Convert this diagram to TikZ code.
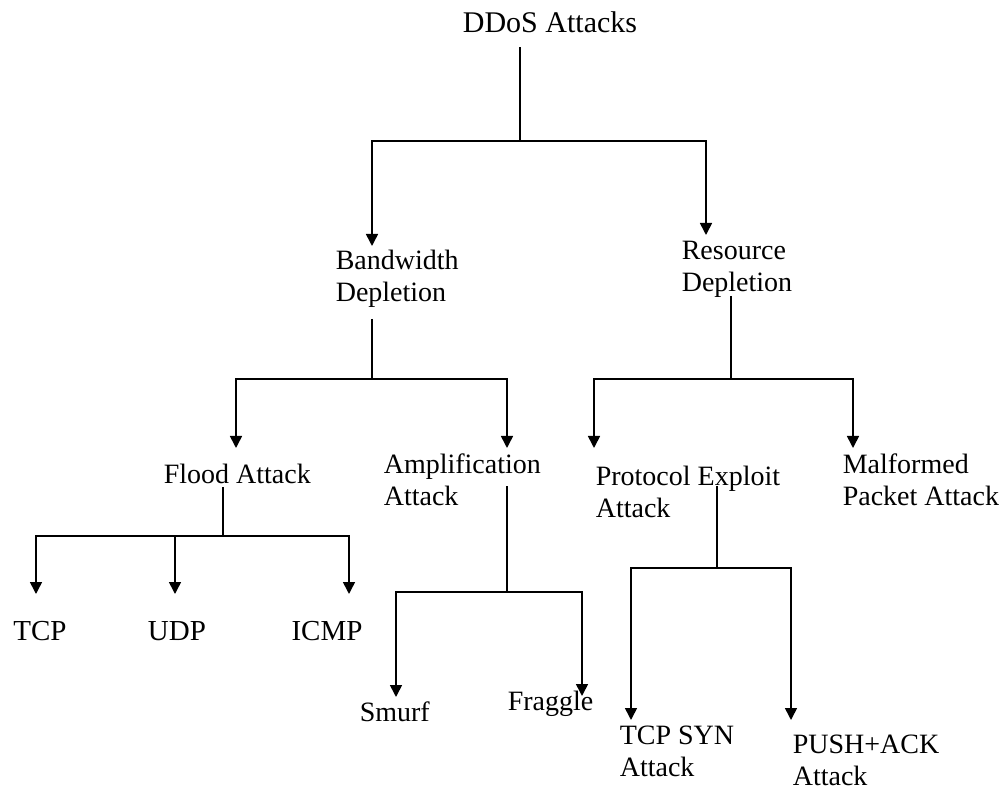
\documentclass[tikz,border=0pt]{standalone}
\usepackage{fontspec}
\setmainfont{Liberation Serif}
\usetikzlibrary{arrows.meta}
\tikzset{
  lbl/.style={inner sep=0pt, align=left, font=\fontsize{28}{32}\selectfont},
  bigl/.style={inner sep=0pt, font=\fontsize{29}{34}\selectfont},
  arr/.style={-{Triangle[width=12pt,length=12pt]}},
}
\begin{document}
\begin{tikzpicture}[x=1pt,y=-1pt,line width=1.6pt]
\useasboundingbox (0,0) rectangle (1007,791);
% labels (base = last line)
\node[lbl,anchor=base,font=\fontsize{30}{34}\selectfont] (ddos) at (550,33) {DDoS Attacks};
\node[lbl,anchor=base west] (bw) at (335,302) {Bandwidth\\Depletion};
\node[lbl,anchor=base west] (rd) at (681,292) {Resource\\Depletion};
\node[lbl,anchor=base west] (flood) at (163,483) {Flood Attack};
\node[lbl,anchor=base west] (amp) at (383,505) {Amplification\\Attack};
\node[lbl,anchor=base west] (expl) at (595,517) {Protocol Exploit\\Attack};
\node[lbl,anchor=base west] (malf) at (842,505) {Malformed\\Packet Attack};
\node[bigl,anchor=base] (tcp) at (40,640) {TCP};
\node[bigl,anchor=base] (udp) at (177,640) {UDP};
\node[bigl,anchor=base] (icmp) at (327,640) {ICMP};
\node[lbl,anchor=base west] (smurf) at (359,721) {Smurf};
\node[lbl,anchor=base west] (fraggle) at (507,710) {Fraggle};
\node[lbl,anchor=base west] (syn) at (619,776) {TCP SYN\\Attack};
\node[lbl,anchor=base west] (push) at (792,785) {PUSH+ACK\\Attack};
% junctions and arrow ends
\coordinate (j0) at (520,141);
\coordinate (bwtip) at (372,246);
\coordinate (rdtip) at (706,235);
\coordinate (j1) at (372,379);
\coordinate (floodtip) at (236,448);
\coordinate (amptip) at (507,448);
\coordinate (j2) at (731,379);
\coordinate (expltip) at (594,448);
\coordinate (malftip) at (853,448);
\coordinate (j3) at (223,536);
\coordinate (tcptip) at (36,594);
\coordinate (udptip) at (175,594);
\coordinate (icmptip) at (349,594);
\coordinate (j4) at (507,592);
\coordinate (smurftip) at (396,697);
\coordinate (fraggletip) at (582,696);
\coordinate (j5) at (717,568);
\coordinate (syntip) at (631,720);
\coordinate (pushtip) at (791,720);
% connectors
\draw ([yshift=-13pt]ddos.south -| j0) -- (j0);
\draw[arr] (j0) -| (bwtip);
\draw[arr] (j0) -| (rdtip);
\draw ([yshift=-10pt]bw.south -| j1) -- (j1);
\draw[arr] (j1) -| (floodtip);
\draw[arr] (j1) -| (amptip);
\draw ([yshift=3pt]rd.south -| j2) -- (j2);
\draw[arr] (j2) -| (expltip);
\draw[arr] (j2) -| (malftip);
\draw ([yshift=-3pt]flood.south -| j3) -- (j3);
\draw[arr] (j3) -| (tcptip);
\draw[arr] (j3 -| udptip) -- (udptip);
\draw[arr] (j3) -| (icmptip);
\draw ([yshift=20pt]amp.south -| j4) -- (j4);
\draw[arr] (j4) -| (smurftip);
\draw[arr] (j4) -| (fraggletip);
\draw ([yshift=32pt]expl.south -| j5) -- (j5);
\draw[arr] (j5) -| (syntip);
\draw[arr] (j5) -| (pushtip);
\end{tikzpicture}
\end{document}
